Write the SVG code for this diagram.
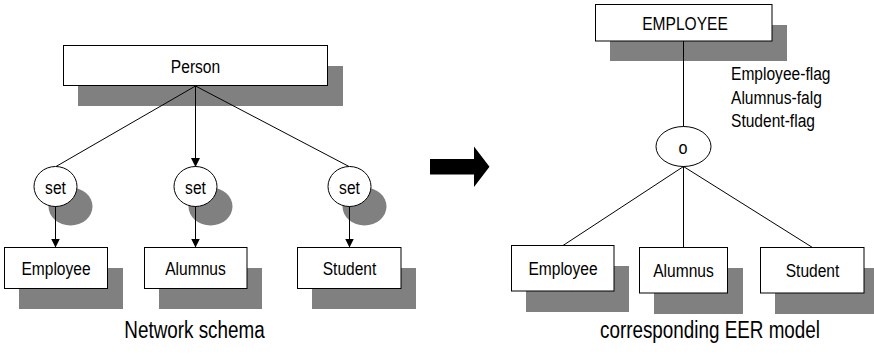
<svg xmlns="http://www.w3.org/2000/svg" width="874" height="355" viewBox="0 0 874 355">
  <defs>
    <marker id="head" markerWidth="9" markerHeight="11" refX="8.5" refY="4.5" orient="auto" markerUnits="userSpaceOnUse">
      <path d="M0,0 L9,4.5 L0,9 Z" fill="#000"/>
    </marker>
  </defs>
  <style>
    .box { fill: #fff; stroke: #000; stroke-width: 1; }
    .shadow { fill: #808080; stroke: none; }
    text { font-family: "Liberation Sans", Arial, sans-serif; fill: #000; }
    .lbl { font-size: 19px; text-anchor: middle; }
    .flag { font-size: 19px; }
    .cap { font-size: 23px; text-anchor: middle; }
    .conn { stroke: #000; stroke-width: 1; fill: none; }
  </style>

  <rect width="874" height="355" fill="#fff"/>

  <!-- Network schema -->
  <g id="person">
    <rect class="shadow" x="78" y="66" width="265" height="40"/>
    <rect class="box" x="63.5" y="45.5" width="264" height="40"/>
    <text class="lbl" transform="translate(195.5,73) scale(0.82,1)">Person</text>
  </g>

  <g id="set1">
    <ellipse class="shadow" cx="70.5" cy="206.5" rx="22" ry="19"/>
    <ellipse class="box" cx="55.5" cy="186.5" rx="21.5" ry="20"/>
    <text class="lbl" transform="translate(55.5,193.5) scale(0.82,1)">set</text>
  </g>
  <g id="set2">
    <ellipse class="shadow" cx="210.5" cy="206.5" rx="22" ry="19"/>
    <ellipse class="box" cx="195.5" cy="186.5" rx="21.5" ry="20"/>
    <text class="lbl" transform="translate(195.5,193.5) scale(0.82,1)">set</text>
  </g>
  <g id="set3">
    <ellipse class="shadow" cx="364.5" cy="206.5" rx="22" ry="19"/>
    <ellipse class="box" cx="349.5" cy="186.5" rx="21.5" ry="20"/>
    <text class="lbl" transform="translate(349.5,193.5) scale(0.82,1)">set</text>
  </g>

  <g id="ns-employee">
    <rect class="shadow" x="19" y="268" width="104" height="41"/>
    <rect class="box" x="4.5" y="247.5" width="103" height="41"/>
    <text class="lbl" transform="translate(56,275) scale(0.82,1)">Employee</text>
  </g>
  <g id="ns-alumnus">
    <rect class="shadow" x="159" y="268" width="103" height="41"/>
    <rect class="box" x="144.5" y="247.5" width="102.5" height="41"/>
    <text class="lbl" transform="translate(195.5,275) scale(0.82,1)">Alumnus</text>
  </g>
  <g id="ns-student">
    <rect class="shadow" x="312" y="268" width="104" height="41"/>
    <rect class="box" x="297.5" y="247.5" width="103.5" height="41"/>
    <text class="lbl" transform="translate(349.5,275) scale(0.82,1)">Student</text>
  </g>

  <!-- EER model -->
  <g id="eer-employee-entity">
    <rect class="shadow" x="610" y="25" width="177" height="36"/>
    <rect class="box" x="595.5" y="4.5" width="176.5" height="36.5"/>
    <text class="lbl" transform="translate(685,30) scale(0.82,1)">EMPLOYEE</text>
  </g>

  <g id="flags">
    <text class="flag" transform="translate(731,80) scale(0.82,1)">Employee-flag</text>
    <text class="flag" transform="translate(731,103.5) scale(0.82,1)">Alumnus-falg</text>
    <text class="flag" transform="translate(731,127) scale(0.82,1)">Student-flag</text>
  </g>

  <g id="overlap">
    <ellipse class="box" cx="683.5" cy="146.5" rx="27.5" ry="20"/>
    <text class="lbl" transform="translate(683,153.5) scale(0.85,1)">o</text>
  </g>

  <g id="eer-employee">
    <rect class="shadow" x="526" y="266" width="103" height="46"/>
    <rect class="box" x="511.5" y="245.5" width="102.5" height="45.5"/>
    <text class="lbl" transform="translate(563,275) scale(0.82,1)">Employee</text>
  </g>
  <g id="eer-alumnus">
    <rect class="shadow" x="654" y="268" width="89" height="46"/>
    <rect class="box" x="639.5" y="247.5" width="88" height="45.5"/>
    <text class="lbl" transform="translate(683.5,277) scale(0.82,1)">Alumnus</text>
  </g>
  <g id="eer-student">
    <rect class="shadow" x="775" y="268" width="104" height="46"/>
    <rect class="box" x="760.5" y="247.5" width="103.5" height="45.5"/>
    <text class="lbl" transform="translate(812.5,277) scale(0.82,1)">Student</text>
  </g>

  <!-- connectors -->
  <g id="connectors">
    <line class="conn" x1="195.5" y1="86" x2="56" y2="166.5"/>
    <line class="conn" x1="195.5" y1="86" x2="195.5" y2="166.5" marker-end="url(#head)"/>
    <line class="conn" x1="195.5" y1="86" x2="349" y2="166.5"/>
    <line class="conn" x1="55.5" y1="206.5" x2="55.5" y2="247" marker-end="url(#head)"/>
    <line class="conn" x1="195.5" y1="206.5" x2="195.5" y2="247" marker-end="url(#head)"/>
    <line class="conn" x1="349.5" y1="206.5" x2="349.5" y2="247" marker-end="url(#head)"/>

    <line class="conn" x1="683.5" y1="41" x2="683.5" y2="126.5"/>
    <line class="conn" x1="683.5" y1="166.5" x2="563" y2="245.5"/>
    <line class="conn" x1="683.5" y1="166.5" x2="683.5" y2="247.5"/>
    <line class="conn" x1="683.5" y1="166.5" x2="812.5" y2="247.5"/>
  </g>

  <!-- transformation arrow -->
  <polygon id="transform-arrow" points="430,159 474,159 474,146.5 489.5,166.7 474,187 474,174.5 430,174.5" fill="#000"/>

  <g id="captions">
    <text class="cap" transform="translate(194.5,338) scale(0.82,1)">Network schema</text>
    <text class="cap" transform="translate(710,338) scale(0.82,1)">corresponding EER model</text>
  </g>
</svg>
